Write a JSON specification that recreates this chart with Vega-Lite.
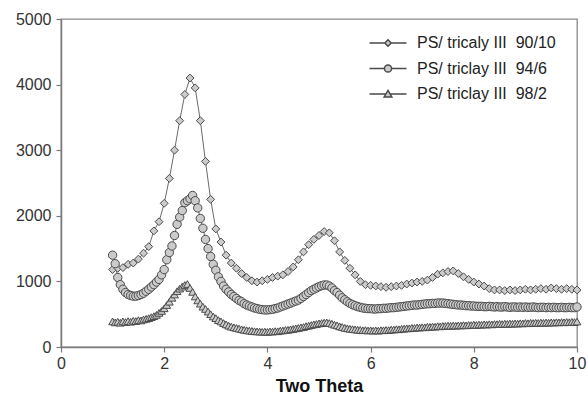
{
"$schema":"https://vega.github.io/schema/vega-lite/v6.json",
"width":516,"height":328,"autosize":"none",
"padding":{"left":61,"top":19,"right":11,"bottom":58},
"config":{"font":"Liberation Sans","view":{"stroke":"#8a8a8a","strokeWidth":1.3},
"axis":{"domainColor":"#7a7a7a","domainWidth":1.5,"tickColor":"#7a7a7a","tickWidth":1.2,"tickSize":5,"grid":false,"labelFontSize":16,"labelColor":"#333","labelFont":"Liberation Sans"}},
"datasets":{"d":[
{"s":"a","x":1.0,"y":1180},{"s":"a","x":1.1,"y":1200},{"s":"a","x":1.2,"y":1210},{"s":"a","x":1.3,"y":1260},{"s":"a","x":1.4,"y":1280},{"s":"a","x":1.5,"y":1340},{"s":"a","x":1.6,"y":1430},{"s":"a","x":1.7,"y":1530},{"s":"a","x":1.8,"y":1770},{"s":"a","x":1.9,"y":1910},
{"s":"a","x":2.0,"y":2190},{"s":"a","x":2.1,"y":2570},{"s":"a","x":2.2,"y":3000},{"s":"a","x":2.3,"y":3450},{"s":"a","x":2.4,"y":3850},{"s":"a","x":2.5,"y":4100},{"s":"a","x":2.6,"y":3950},{"s":"a","x":2.7,"y":3450},{"s":"a","x":2.8,"y":2830},{"s":"a","x":2.9,"y":2250},
{"s":"a","x":3.0,"y":1800},{"s":"a","x":3.1,"y":1600},{"s":"a","x":3.2,"y":1400},{"s":"a","x":3.3,"y":1280},{"s":"a","x":3.4,"y":1200},{"s":"a","x":3.5,"y":1120},{"s":"a","x":3.6,"y":1060},{"s":"a","x":3.7,"y":1010},{"s":"a","x":3.8,"y":990},{"s":"a","x":3.9,"y":1010},
{"s":"a","x":4.0,"y":1030},{"s":"a","x":4.1,"y":1060},{"s":"a","x":4.2,"y":1080},{"s":"a","x":4.3,"y":1100},{"s":"a","x":4.4,"y":1150},{"s":"a","x":4.5,"y":1220},{"s":"a","x":4.6,"y":1330},{"s":"a","x":4.7,"y":1450},{"s":"a","x":4.8,"y":1560},{"s":"a","x":4.9,"y":1640},
{"s":"a","x":5.0,"y":1700},{"s":"a","x":5.1,"y":1760},{"s":"a","x":5.2,"y":1740},{"s":"a","x":5.3,"y":1620},{"s":"a","x":5.4,"y":1450},{"s":"a","x":5.5,"y":1320},{"s":"a","x":5.6,"y":1200},{"s":"a","x":5.7,"y":1100},{"s":"a","x":5.8,"y":1000},{"s":"a","x":5.9,"y":950},
{"s":"a","x":6.0,"y":940},{"s":"a","x":6.1,"y":930},{"s":"a","x":6.2,"y":920},{"s":"a","x":6.3,"y":910},{"s":"a","x":6.4,"y":920},{"s":"a","x":6.5,"y":930},{"s":"a","x":6.6,"y":940},{"s":"a","x":6.7,"y":960},{"s":"a","x":6.8,"y":975},{"s":"a","x":6.9,"y":990},
{"s":"a","x":7.0,"y":1000},{"s":"a","x":7.1,"y":1020},{"s":"a","x":7.2,"y":1060},{"s":"a","x":7.3,"y":1110},{"s":"a","x":7.4,"y":1130},{"s":"a","x":7.5,"y":1150},{"s":"a","x":7.6,"y":1160},{"s":"a","x":7.7,"y":1120},{"s":"a","x":7.8,"y":1070},{"s":"a","x":7.9,"y":1030},
{"s":"a","x":8.0,"y":990},{"s":"a","x":8.1,"y":960},{"s":"a","x":8.2,"y":930},{"s":"a","x":8.3,"y":890},{"s":"a","x":8.4,"y":870},{"s":"a","x":8.5,"y":870},{"s":"a","x":8.6,"y":860},{"s":"a","x":8.7,"y":870},{"s":"a","x":8.8,"y":860},{"s":"a","x":8.9,"y":870},
{"s":"a","x":9.0,"y":880},{"s":"a","x":9.1,"y":870},{"s":"a","x":9.2,"y":880},{"s":"a","x":9.3,"y":890},{"s":"a","x":9.4,"y":880},{"s":"a","x":9.5,"y":900},{"s":"a","x":9.6,"y":890},{"s":"a","x":9.7,"y":880},{"s":"a","x":9.8,"y":890},{"s":"a","x":9.9,"y":880},{"s":"a","x":10.0,"y":870},
{"s":"b","x":1.00,"y":1400},{"s":"b","x":1.05,"y":1270},{"s":"b","x":1.10,"y":1060},{"s":"b","x":1.15,"y":950},{"s":"b","x":1.20,"y":880},{"s":"b","x":1.25,"y":830},{"s":"b","x":1.30,"y":800},{"s":"b","x":1.35,"y":785},{"s":"b","x":1.40,"y":775},{"s":"b","x":1.45,"y":775},
{"s":"b","x":1.50,"y":785},{"s":"b","x":1.55,"y":800},{"s":"b","x":1.60,"y":820},{"s":"b","x":1.65,"y":850},{"s":"b","x":1.70,"y":880},{"s":"b","x":1.75,"y":915},{"s":"b","x":1.80,"y":950},{"s":"b","x":1.85,"y":990},{"s":"b","x":1.90,"y":1030},{"s":"b","x":1.95,"y":1100},
{"s":"b","x":2.00,"y":1180},{"s":"b","x":2.05,"y":1330},{"s":"b","x":2.10,"y":1440},{"s":"b","x":2.15,"y":1540},{"s":"b","x":2.20,"y":1700},{"s":"b","x":2.25,"y":1870},{"s":"b","x":2.30,"y":1980},{"s":"b","x":2.35,"y":2080},{"s":"b","x":2.40,"y":2200},{"s":"b","x":2.45,"y":2230},
{"s":"b","x":2.50,"y":2260},{"s":"b","x":2.55,"y":2310},{"s":"b","x":2.60,"y":2230},{"s":"b","x":2.65,"y":2120},{"s":"b","x":2.70,"y":1960},{"s":"b","x":2.75,"y":1810},{"s":"b","x":2.80,"y":1640},{"s":"b","x":2.85,"y":1500},{"s":"b","x":2.90,"y":1380},{"s":"b","x":2.95,"y":1260},
{"s":"b","x":3.00,"y":1170},{"s":"b","x":3.05,"y":1070},{"s":"b","x":3.10,"y":1000},{"s":"b","x":3.15,"y":930},{"s":"b","x":3.20,"y":880},{"s":"b","x":3.25,"y":840},{"s":"b","x":3.30,"y":800},{"s":"b","x":3.35,"y":770},{"s":"b","x":3.40,"y":740},{"s":"b","x":3.45,"y":710},
{"s":"b","x":3.50,"y":690},{"s":"b","x":3.55,"y":660},{"s":"b","x":3.60,"y":640},{"s":"b","x":3.65,"y":625},{"s":"b","x":3.70,"y":610},{"s":"b","x":3.75,"y":595},{"s":"b","x":3.80,"y":585},{"s":"b","x":3.85,"y":575},{"s":"b","x":3.90,"y":570},{"s":"b","x":3.95,"y":565},
{"s":"b","x":4.00,"y":565},{"s":"b","x":4.05,"y":570},{"s":"b","x":4.10,"y":575},{"s":"b","x":4.15,"y":585},{"s":"b","x":4.20,"y":595},{"s":"b","x":4.25,"y":610},{"s":"b","x":4.30,"y":625},{"s":"b","x":4.35,"y":640},{"s":"b","x":4.40,"y":655},{"s":"b","x":4.45,"y":670},
{"s":"b","x":4.50,"y":685},{"s":"b","x":4.55,"y":700},{"s":"b","x":4.60,"y":715},{"s":"b","x":4.65,"y":740},{"s":"b","x":4.70,"y":770},{"s":"b","x":4.75,"y":800},{"s":"b","x":4.80,"y":830},{"s":"b","x":4.85,"y":860},{"s":"b","x":4.90,"y":880},{"s":"b","x":4.95,"y":900},
{"s":"b","x":5.00,"y":920},{"s":"b","x":5.05,"y":935},{"s":"b","x":5.10,"y":945},{"s":"b","x":5.15,"y":945},{"s":"b","x":5.20,"y":930},{"s":"b","x":5.25,"y":900},{"s":"b","x":5.30,"y":860},{"s":"b","x":5.35,"y":830},{"s":"b","x":5.40,"y":790},{"s":"b","x":5.45,"y":750},
{"s":"b","x":5.50,"y":720},{"s":"b","x":5.55,"y":690},{"s":"b","x":5.60,"y":665},{"s":"b","x":5.65,"y":645},{"s":"b","x":5.70,"y":630},{"s":"b","x":5.75,"y":615},{"s":"b","x":5.80,"y":605},{"s":"b","x":5.85,"y":595},{"s":"b","x":5.90,"y":590},{"s":"b","x":5.95,"y":585},
{"s":"b","x":6.00,"y":585},{"s":"b","x":6.05,"y":580},{"s":"b","x":6.10,"y":580},{"s":"b","x":6.15,"y":585},{"s":"b","x":6.20,"y":585},{"s":"b","x":6.25,"y":590},{"s":"b","x":6.30,"y":590},{"s":"b","x":6.35,"y":595},{"s":"b","x":6.40,"y":600},{"s":"b","x":6.45,"y":600},
{"s":"b","x":6.50,"y":605},{"s":"b","x":6.55,"y":610},{"s":"b","x":6.60,"y":615},{"s":"b","x":6.65,"y":620},{"s":"b","x":6.70,"y":625},{"s":"b","x":6.75,"y":630},{"s":"b","x":6.80,"y":635},{"s":"b","x":6.85,"y":640},{"s":"b","x":6.90,"y":640},{"s":"b","x":6.95,"y":645},
{"s":"b","x":7.00,"y":650},{"s":"b","x":7.05,"y":655},{"s":"b","x":7.10,"y":660},{"s":"b","x":7.15,"y":660},{"s":"b","x":7.20,"y":665},{"s":"b","x":7.25,"y":665},{"s":"b","x":7.30,"y":670},{"s":"b","x":7.35,"y":670},{"s":"b","x":7.40,"y":670},{"s":"b","x":7.45,"y":665},
{"s":"b","x":7.50,"y":660},{"s":"b","x":7.55,"y":655},{"s":"b","x":7.60,"y":650},{"s":"b","x":7.65,"y":645},{"s":"b","x":7.70,"y":640},{"s":"b","x":7.75,"y":640},{"s":"b","x":7.80,"y":635},{"s":"b","x":7.85,"y":630},{"s":"b","x":7.90,"y":630},{"s":"b","x":7.95,"y":625},
{"s":"b","x":8.00,"y":625},{"s":"b","x":8.05,"y":620},{"s":"b","x":8.10,"y":620},{"s":"b","x":8.15,"y":620},{"s":"b","x":8.20,"y":615},{"s":"b","x":8.25,"y":615},{"s":"b","x":8.30,"y":620},{"s":"b","x":8.35,"y":615},{"s":"b","x":8.40,"y":610},{"s":"b","x":8.45,"y":615},
{"s":"b","x":8.50,"y":610},{"s":"b","x":8.55,"y":610},{"s":"b","x":8.60,"y":615},{"s":"b","x":8.65,"y":610},{"s":"b","x":8.70,"y":605},{"s":"b","x":8.75,"y":610},{"s":"b","x":8.80,"y":610},{"s":"b","x":8.85,"y":605},{"s":"b","x":8.90,"y":610},{"s":"b","x":8.95,"y":605},
{"s":"b","x":9.00,"y":610},{"s":"b","x":9.05,"y":605},{"s":"b","x":9.10,"y":605},{"s":"b","x":9.15,"y":610},{"s":"b","x":9.20,"y":605},{"s":"b","x":9.25,"y":600},{"s":"b","x":9.30,"y":605},{"s":"b","x":9.35,"y":605},{"s":"b","x":9.40,"y":600},{"s":"b","x":9.45,"y":605},
{"s":"b","x":9.50,"y":600},{"s":"b","x":9.55,"y":605},{"s":"b","x":9.60,"y":600},{"s":"b","x":9.65,"y":600},{"s":"b","x":9.70,"y":605},{"s":"b","x":9.75,"y":600},{"s":"b","x":9.80,"y":600},{"s":"b","x":9.85,"y":605},{"s":"b","x":9.90,"y":600},{"s":"b","x":9.95,"y":600},{"s":"b","x":10.00,"y":610},
{"s":"c","x":1.00,"y":390},{"s":"c","x":1.05,"y":375},{"s":"c","x":1.10,"y":385},{"s":"c","x":1.15,"y":370},{"s":"c","x":1.20,"y":390},{"s":"c","x":1.25,"y":380},{"s":"c","x":1.30,"y":395},{"s":"c","x":1.35,"y":385},{"s":"c","x":1.40,"y":400},{"s":"c","x":1.45,"y":395},
{"s":"c","x":1.50,"y":410},{"s":"c","x":1.55,"y":405},{"s":"c","x":1.60,"y":420},{"s":"c","x":1.65,"y":430},{"s":"c","x":1.70,"y":440},{"s":"c","x":1.75,"y":455},{"s":"c","x":1.80,"y":470},{"s":"c","x":1.85,"y":490},{"s":"c","x":1.90,"y":520},{"s":"c","x":1.95,"y":550},
{"s":"c","x":2.00,"y":590},{"s":"c","x":2.05,"y":640},{"s":"c","x":2.10,"y":690},{"s":"c","x":2.15,"y":750},{"s":"c","x":2.20,"y":800},{"s":"c","x":2.25,"y":850},{"s":"c","x":2.30,"y":890},{"s":"c","x":2.35,"y":920},{"s":"c","x":2.40,"y":945},{"s":"c","x":2.45,"y":960},
{"s":"c","x":2.50,"y":900},{"s":"c","x":2.55,"y":840},{"s":"c","x":2.60,"y":770},{"s":"c","x":2.65,"y":710},{"s":"c","x":2.70,"y":660},{"s":"c","x":2.75,"y":615},{"s":"c","x":2.80,"y":580},{"s":"c","x":2.85,"y":540},{"s":"c","x":2.90,"y":500},{"s":"c","x":2.95,"y":465},
{"s":"c","x":3.00,"y":440},{"s":"c","x":3.05,"y":410},{"s":"c","x":3.10,"y":390},{"s":"c","x":3.15,"y":365},{"s":"c","x":3.20,"y":345},{"s":"c","x":3.25,"y":325},{"s":"c","x":3.30,"y":310},{"s":"c","x":3.35,"y":300},{"s":"c","x":3.40,"y":290},{"s":"c","x":3.45,"y":280},
{"s":"c","x":3.50,"y":270},{"s":"c","x":3.55,"y":262},{"s":"c","x":3.60,"y":255},{"s":"c","x":3.65,"y":250},{"s":"c","x":3.70,"y":245},{"s":"c","x":3.75,"y":240},{"s":"c","x":3.80,"y":238},{"s":"c","x":3.85,"y":235},{"s":"c","x":3.90,"y":232},{"s":"c","x":3.95,"y":235},
{"s":"c","x":4.00,"y":230},{"s":"c","x":4.05,"y":238},{"s":"c","x":4.10,"y":235},{"s":"c","x":4.15,"y":242},{"s":"c","x":4.20,"y":240},{"s":"c","x":4.25,"y":250},{"s":"c","x":4.30,"y":252},{"s":"c","x":4.35,"y":260},{"s":"c","x":4.40,"y":262},{"s":"c","x":4.45,"y":270},
{"s":"c","x":4.50,"y":275},{"s":"c","x":4.55,"y":285},{"s":"c","x":4.60,"y":290},{"s":"c","x":4.65,"y":300},{"s":"c","x":4.70,"y":305},{"s":"c","x":4.75,"y":318},{"s":"c","x":4.80,"y":325},{"s":"c","x":4.85,"y":335},{"s":"c","x":4.90,"y":345},{"s":"c","x":4.95,"y":350},
{"s":"c","x":5.00,"y":360},{"s":"c","x":5.05,"y":365},{"s":"c","x":5.10,"y":372},{"s":"c","x":5.15,"y":375},{"s":"c","x":5.20,"y":365},{"s":"c","x":5.25,"y":355},{"s":"c","x":5.30,"y":340},{"s":"c","x":5.35,"y":330},{"s":"c","x":5.40,"y":315},{"s":"c","x":5.45,"y":305},
{"s":"c","x":5.50,"y":292},{"s":"c","x":5.55,"y":285},{"s":"c","x":5.60,"y":278},{"s":"c","x":5.65,"y":272},{"s":"c","x":5.70,"y":268},{"s":"c","x":5.75,"y":262},{"s":"c","x":5.80,"y":260},{"s":"c","x":5.85,"y":255},{"s":"c","x":5.90,"y":258},{"s":"c","x":5.95,"y":252},
{"s":"c","x":6.00,"y":255},{"s":"c","x":6.05,"y":250},{"s":"c","x":6.10,"y":254},{"s":"c","x":6.15,"y":250},{"s":"c","x":6.20,"y":256},{"s":"c","x":6.25,"y":255},{"s":"c","x":6.30,"y":260},{"s":"c","x":6.35,"y":258},{"s":"c","x":6.40,"y":265},{"s":"c","x":6.45,"y":266},
{"s":"c","x":6.50,"y":272},{"s":"c","x":6.55,"y":270},{"s":"c","x":6.60,"y":278},{"s":"c","x":6.65,"y":280},{"s":"c","x":6.70,"y":285},{"s":"c","x":6.75,"y":285},{"s":"c","x":6.80,"y":292},{"s":"c","x":6.85,"y":290},{"s":"c","x":6.90,"y":298},{"s":"c","x":6.95,"y":296},
{"s":"c","x":7.00,"y":302},{"s":"c","x":7.05,"y":300},{"s":"c","x":7.10,"y":308},{"s":"c","x":7.15,"y":306},{"s":"c","x":7.20,"y":312},{"s":"c","x":7.25,"y":310},{"s":"c","x":7.30,"y":318},{"s":"c","x":7.35,"y":315},{"s":"c","x":7.40,"y":322},{"s":"c","x":7.45,"y":320},
{"s":"c","x":7.50,"y":326},{"s":"c","x":7.55,"y":322},{"s":"c","x":7.60,"y":328},{"s":"c","x":7.65,"y":325},{"s":"c","x":7.70,"y":330},{"s":"c","x":7.75,"y":328},{"s":"c","x":7.80,"y":334},{"s":"c","x":7.85,"y":330},{"s":"c","x":7.90,"y":336},{"s":"c","x":7.95,"y":334},
{"s":"c","x":8.00,"y":340},{"s":"c","x":8.05,"y":336},{"s":"c","x":8.10,"y":342},{"s":"c","x":8.15,"y":340},{"s":"c","x":8.20,"y":346},{"s":"c","x":8.25,"y":342},{"s":"c","x":8.30,"y":348},{"s":"c","x":8.35,"y":345},{"s":"c","x":8.40,"y":350},{"s":"c","x":8.45,"y":348},
{"s":"c","x":8.50,"y":354},{"s":"c","x":8.55,"y":350},{"s":"c","x":8.60,"y":356},{"s":"c","x":8.65,"y":352},{"s":"c","x":8.70,"y":358},{"s":"c","x":8.75,"y":355},{"s":"c","x":8.80,"y":360},{"s":"c","x":8.85,"y":357},{"s":"c","x":8.90,"y":362},{"s":"c","x":8.95,"y":360},
{"s":"c","x":9.00,"y":366},{"s":"c","x":9.05,"y":362},{"s":"c","x":9.10,"y":368},{"s":"c","x":9.15,"y":365},{"s":"c","x":9.20,"y":370},{"s":"c","x":9.25,"y":366},{"s":"c","x":9.30,"y":372},{"s":"c","x":9.35,"y":368},{"s":"c","x":9.40,"y":374},{"s":"c","x":9.45,"y":370},
{"s":"c","x":9.50,"y":376},{"s":"c","x":9.55,"y":372},{"s":"c","x":9.60,"y":378},{"s":"c","x":9.65,"y":375},{"s":"c","x":9.70,"y":380},{"s":"c","x":9.75,"y":377},{"s":"c","x":9.80,"y":382},{"s":"c","x":9.85,"y":378},{"s":"c","x":9.90,"y":384},{"s":"c","x":9.95,"y":380},{"s":"c","x":10.00,"y":388}
]},
"data":{"name":"d"},
"encoding":{
"x":{"field":"x","type":"quantitative","scale":{"domain":[0,10],"nice":false},"axis":{"values":[0,2,4,6,8,10],"title":"Two Theta","titleFontSize":18,"titleFontWeight":"bold","titleColor":"#111","titlePadding":6,"labelPadding":3,"labelFlush":false}},
"y":{"field":"y","type":"quantitative","scale":{"domain":[0,5000],"nice":false},"axis":{"values":[0,1000,2000,3000,4000,5000],"format":"d","title":null,"labelPadding":5}}
},
"layer":[
{"mark":{"type":"line","color":"#444","strokeWidth":0.8},"encoding":{"detail":{"field":"s"}}},
{"transform":[{"filter":"datum.s == 'a'"}],"mark":{"type":"point","shape":"diamond","size":62,"filled":true,"fill":"#cbcbcb","stroke":"#4a4a4a","strokeWidth":1,"opacity":1}},
{"transform":[{"filter":"datum.s == 'b'"}],"mark":{"type":"point","shape":"circle","size":70,"filled":true,"fill":"#cbcbcb","stroke":"#4a4a4a","strokeWidth":1,"opacity":1}},
{"transform":[{"filter":"datum.s == 'c'"}],"mark":{"type":"point","shape":"triangle-up","size":60,"filled":true,"fill":"#cbcbcb","stroke":"#4a4a4a","strokeWidth":1,"opacity":1}},
{"transform":[{"filter":"datum.x < 0"}],
"mark":{"type":"point","filled":false,"fill":"#cbcbcb","stroke":"#4a4a4a","strokeWidth":1,"opacity":1},
"encoding":{"shape":{"field":"s","scale":{"domain":["a","b","c"],"range":[
"M-1.85,0H-0.32M0.32,0H1.85M0,-0.32L0.32,0L0,0.32L-0.32,0Z",
"M-1.85,0H-0.36M0.36,0H1.85M0.36,0A0.36,0.36 0 1,1 -0.36,0A0.36,0.36 0 1,1 0.36,0Z",
"M-1.85,0H-0.25M0.25,0H1.85M0,-0.36L0.38,0.3L-0.38,0.3Z"]},
"legend":{"title":null,"orient":"none","legendX":316,"legendY":13,"padding":0,"symbolSize":400,"labelFontSize":16,"labelColor":"#222","labelOffset":18,"rowPadding":6.5,
"encode":{"symbols":{"update":{"stroke":{"value":"#4a4a4a"},"strokeWidth":{"value":1},"fill":{"value":"#cbcbcb"},"opacity":{"value":1}}}},
"labelExpr":"datum.value == 'a' ? 'PS/ tricaly III\u00a0 90/10' : datum.value == 'b' ? 'PS/ triclay III\u00a0 94/6' : 'PS/ triclay III\u00a0 98/2'"}}}}
]
}
